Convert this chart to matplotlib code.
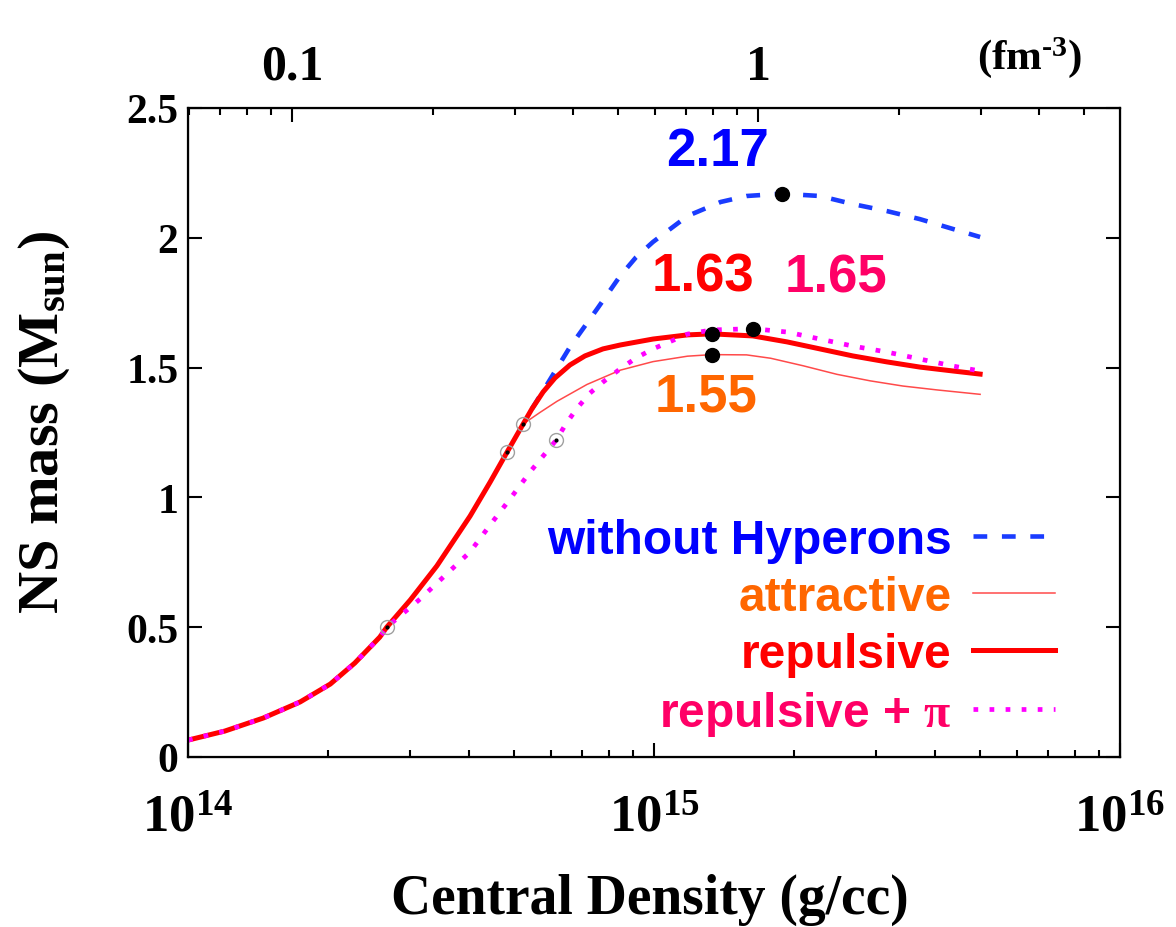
import matplotlib
matplotlib.use("Agg")
import matplotlib.pyplot as plt
from matplotlib.ticker import FixedLocator, FixedFormatter, LogLocator, NullFormatter

plt.rcParams['mathtext.fontset'] = 'custom'
plt.rcParams['mathtext.rm'] = 'Liberation Serif:bold'
plt.rcParams['mathtext.it'] = 'Liberation Serif:italic:bold'
plt.rcParams['mathtext.bf'] = 'Liberation Serif:bold'

# Central density (g/cc) and neutron-star mass (M_sun) along each sequence
rho_rep = [1.00e14, 1.20e14, 1.45e14, 1.74e14, 2.02e14, 2.28e14, 2.58e14, 2.67e14,
           3.00e14, 3.42e14, 4.03e14, 4.45e14, 4.84e14, 5.24e14, 5.47e14, 5.78e14,
           6.13e14, 6.60e14, 7.11e14, 7.77e14, 8.46e14, 9.95e14, 1.18e15, 1.33e15,
           1.63e15, 1.93e15, 2.27e15, 2.67e15, 3.16e15, 3.72e15, 4.38e15, 5.01e15]
m_rep = [0.065, 0.100, 0.150, 0.212, 0.281, 0.362, 0.462, 0.500,
         0.605, 0.736, 0.928, 1.059, 1.175, 1.283, 1.341, 1.406,
         1.460, 1.510, 1.545, 1.572, 1.587, 1.610, 1.626, 1.630,
         1.622, 1.599, 1.572, 1.545, 1.522, 1.502, 1.487, 1.475]

rho_att = [1.00e14, 1.20e14, 1.45e14, 1.74e14, 2.02e14, 2.28e14, 2.58e14, 2.67e14,
           3.00e14, 3.42e14, 4.03e14, 4.45e14, 4.84e14, 5.24e14, 5.69e14, 6.19e14,
           7.18e14, 8.46e14, 9.95e14, 1.18e15, 1.33e15, 1.58e15, 1.78e15, 2.09e15,
           2.47e15, 2.91e15, 3.42e15, 4.05e15, 5.01e15]
m_att = [0.065, 0.100, 0.150, 0.212, 0.281, 0.362, 0.462, 0.500,
         0.605, 0.736, 0.928, 1.059, 1.175, 1.283, 1.327, 1.370,
         1.435, 1.490, 1.523, 1.544, 1.550, 1.549, 1.536, 1.507,
         1.474, 1.449, 1.429, 1.414, 1.397]

rho_pi = [1.00e14, 1.20e14, 1.45e14, 1.74e14, 2.02e14, 2.28e14, 2.58e14, 2.67e14,
          3.15e14, 3.56e14, 4.03e14, 4.45e14, 4.91e14, 5.42e14, 6.17e14, 6.47e14,
          6.84e14, 7.29e14, 7.78e14, 8.46e14, 9.15e14, 9.95e14, 1.18e15, 1.33e15,
          1.63e15, 1.93e15, 2.27e15, 2.67e15, 3.16e15, 3.72e15, 4.38e15, 5.01e15]
m_pi = [0.065, 0.100, 0.150, 0.212, 0.281, 0.362, 0.462, 0.500,
        0.609, 0.699, 0.790, 0.894, 0.994, 1.098, 1.221, 1.283,
        1.344, 1.402, 1.445, 1.495, 1.537, 1.572, 1.629, 1.645,
        1.650, 1.637, 1.610, 1.583, 1.560, 1.533, 1.506, 1.487]

rho_nuc = [5.47e14, 5.78e14, 6.13e14, 6.60e14, 7.55e14, 8.46e14, 9.15e14, 9.95e14,
           1.18e15, 1.39e15, 1.58e15, 1.88e15, 2.27e15, 2.67e15, 3.16e15, 3.72e15,
           4.38e15, 5.01e15]
m_nuc = [1.341, 1.410, 1.485, 1.579, 1.726, 1.853, 1.925, 1.984,
         2.084, 2.138, 2.161, 2.170, 2.161, 2.130, 2.103, 2.072,
         2.034, 2.003]

# Maximum-mass configurations
max_rho = [1.88e15, 1.33e15, 1.63e15, 1.33e15]
max_m = [2.17, 1.63, 1.65, 1.55]
max_colors = ['#0000ff', '#ff0000', '#ff0066', '#ff6600']
max_offsets = [(-46, 31), (-6, 41), (60, 37), (-4, -30)]

# Hyperon onset points
onset_rho = [2.67e14, 4.84e14, 5.24e14, 6.17e14]
onset_m = [0.500, 1.175, 1.283, 1.221]

legend_labels = ['without Hyperons', 'attractive', 'repulsive', r'repulsive + $\mathrm{\pi}$']
legend_colors = ['#0000ff', '#ff6600', '#ff0000', '#ff0066']

y_ticks = [0, 0.5, 1, 1.5, 2, 2.5]
y_ticklabels = ['0', '0.5', '1', '1.5', '2', '2.5']
x_ticks = [1e14, 1e15, 1e16]
x_ticklabels = [r'$\mathrm{10^{14}}$', r'$\mathrm{10^{15}}$', r'$\mathrm{10^{16}}$']
top_ticks = [0.1, 1]
top_ticklabels = ['0.1', '1']
M_NEUTRON = 1.675e15  # g/cc per fm^-3

serif = {'family': 'Liberation Serif', 'weight': 'bold'}
sans = {'family': 'Liberation Sans', 'weight': 'bold'}

fig = plt.figure(figsize=(11.76, 9.28), dpi=100)
ax = fig.add_axes([188 / 1176, 1 - 758 / 928, 932 / 1176, 649 / 928])

l_nuc, = ax.plot(rho_nuc, m_nuc, color='#1a3cff', lw=3.3, dashes=(3.0, 3.2), zorder=2)
l_att, = ax.plot(rho_att, m_att, color='#ff4a4a', lw=1.1, zorder=3)
l_pi, = ax.plot(rho_pi, m_pi, color='#ff00ff', lw=3.4, dashes=(1.0, 2.4), zorder=4)
l_rep, = ax.plot(rho_rep, m_rep, color='#ff0000', lw=3.6, zorder=3.5)

ax.plot(onset_rho, onset_m, ls='none', marker='o', ms=10, mfc='none', mec='#a0a0a0',
        mew=1.0, zorder=6)
ax.plot(onset_rho, onset_m, ls='none', marker='o', ms=2, color='black', zorder=7)

ax.plot(max_rho, max_m, ls='none', marker='o', ms=10, color='black', zorder=8)
for r, m, c, off in zip(max_rho, max_m, max_colors, max_offsets):
    ax.annotate(f'{m:.2f}', xy=(r, m), xytext=off, textcoords='offset points',
                ha='center', va='center', color=c, fontsize=38, **sans)

ax.set_xscale('log')
ax.set_xlim(1e14, 1e16)
ax.set_ylim(0, 2.5)
ax.xaxis.set_major_locator(FixedLocator(x_ticks))
ax.xaxis.set_major_formatter(FixedFormatter(x_ticklabels))
ax.xaxis.set_minor_locator(LogLocator(base=10, subs=range(2, 10)))
ax.xaxis.set_minor_formatter(NullFormatter())
ax.yaxis.set_major_locator(FixedLocator(y_ticks))
ax.yaxis.set_major_formatter(FixedFormatter(y_ticklabels))

ax.tick_params(which='both', direction='in', top=False, right=True, width=1.5, colors='black')
ax.tick_params(which='major', length=10)
ax.tick_params(which='minor', length=5)
ax.tick_params(axis='x', which='major', pad=24, labelsize=38)
ax.tick_params(axis='y', which='major', pad=7, labelsize=30)
for lab in ax.get_yticklabels():
    lab.set_fontfamily('Liberation Serif')
    lab.set_fontweight('bold')
for sp in ax.spines.values():
    sp.set_linewidth(1.6)

ax.set_xlabel('Central Density (g/cc)', fontsize=40, **serif)
ax.xaxis.set_label_coords(0.4957, -0.178)
ax.set_ylabel(r'NS mass (M$_{\mathrm{sun}}$)', fontsize=42, **serif)
ax.yaxis.set_label_coords(-0.1245, 0.518)

# number-density scale on top
ax2 = ax.twiny()
ax2.set_xscale('log')
ax2.set_xlim(1e14 / M_NEUTRON, 1e16 / M_NEUTRON)
ax2.xaxis.set_major_locator(FixedLocator(top_ticks))
ax2.xaxis.set_major_formatter(FixedFormatter(top_ticklabels))
ax2.xaxis.set_minor_locator(LogLocator(base=10, subs=range(2, 10)))
ax2.xaxis.set_minor_formatter(NullFormatter())
ax2.tick_params(which='both', direction='in', width=1.5)
ax2.tick_params(which='major', length=10, pad=13, labelsize=36)
ax2.tick_params(which='minor', length=5)
for lab in ax2.get_xticklabels():
    lab.set_fontfamily('Liberation Serif')
    lab.set_fontweight('bold')
ax2.text(0.903, 1.0 + 29 / 649, r'(fm$^{\text{-3}}$)', transform=ax.transAxes,
         ha='center', va='bottom', fontsize=31, **serif)

leg = ax.legend([l_nuc, l_att, l_rep, l_pi], legend_labels, loc='upper right',
                bbox_to_anchor=(0.93, 0.368), frameon=False, markerfirst=False,
                handlelength=1.7, handletextpad=0.45, labelspacing=0.25,
                borderpad=0, borderaxespad=0,
                prop={'family': 'Liberation Sans', 'weight': 'bold', 'size': 34.5})
for txt, c in zip(leg.get_texts(), legend_colors):
    txt.set_color(c)

fig.savefig('out.png', dpi=100)
